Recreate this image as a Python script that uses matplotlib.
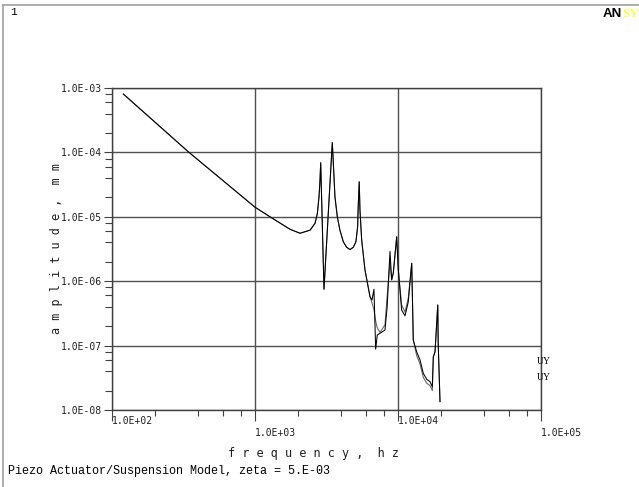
import matplotlib
matplotlib.use("Agg")
import matplotlib.pyplot as plt
from matplotlib.ticker import LogLocator, NullFormatter, FixedLocator, FixedFormatter
from matplotlib.lines import Line2D

# ---- data ----
freq = [120, 342, 1000, 1273, 1758, 2065, 2427, 2628, 2730, 2803,
        2848, 2880, 3037, 3254, 3472, 3530, 3623, 3763, 3926, 4145,
        4375, 4613, 4866, 5080, 5220, 5273, 5357, 5420, 5570, 5874,
        6370, 6580, 6790, 6980, 7160, 7480, 8110, 8400, 8790, 9030,
        9270, 9790, 10050, 10600, 11200, 11800, 12470, 12790, 13510, 14250,
        15030, 15880, 16750, 17380, 17660, 18150, 18970, 19100, 19670]
uy1 = [8.07e-4, 1.02e-4, 1.41e-5, 1.0e-5, 6.4e-6, 5.55e-6, 6.2e-6, 7.9e-6, 1.13e-5, 2.05e-5,
       3.7e-5, 6.9e-5, 7.5e-7, 1.13e-5, 1.42e-4, 6.8e-5, 2.05e-5, 1.0e-5, 6.2e-6, 4.1e-6,
       3.36e-6, 3.1e-6, 3.36e-6, 4.1e-6, 7.0e-6, 1.5e-5, 3.5e-5, 1.28e-5, 4.4e-6, 1.5e-6,
       5.75e-7, 5.1e-7, 7.5e-7, 8.8e-8, 1.46e-7, 1.55e-7, 1.75e-7, 4.0e-7, 2.9e-6, 1.05e-6,
       1.34e-6, 4.9e-6, 1.5e-6, 3.57e-7, 2.9e-7, 4.8e-7, 1.9e-6, 1.22e-7, 8.0e-8, 6.0e-8,
       3.7e-8, 3.0e-8, 2.75e-8, 2.3e-8, 6.7e-8, 8.0e-8, 4.27e-7, 1.09e-7, 1.35e-8]
uy2 = [8.07e-4, 1.02e-4, 1.41e-5, 1.0e-5, 6.4e-6, 5.55e-6, 6.2e-6, 7.9e-6, 1.13e-5, 2.05e-5,
       3.7e-5, 6.9e-5, 7.5e-7, 1.13e-5, 1.42e-4, 6.8e-5, 2.05e-5, 1.0e-5, 6.2e-6, 4.1e-6,
       3.36e-6, 3.1e-6, 3.36e-6, 4.1e-6, 7.0e-6, 1.5e-5, 3.5e-5, 1.28e-5, 4.4e-6, 1.5e-6,
       5.75e-7, 4.6e-7, 3.6e-7, 2.4e-7, 1.9e-7, 1.6e-7, 2.1e-7, 6.0e-7, 2.0e-6, 1.05e-6,
       1.34e-6, 4.9e-6, 1.5e-6, 4.3e-7, 3.3e-7, 5.5e-7, 1.9e-6, 1.22e-7, 7.0e-8, 5.2e-8,
       3.2e-8, 2.6e-8, 2.4e-8, 2.0e-8, 6.7e-8, 8.0e-8, 4.27e-7, 1.09e-7, 1.35e-8]
series_labels = ["UY", "UY"]
xtick_values = [1e2, 1e3, 1e4, 1e5]
xtick_labels = ["1.0E+02", "1.0E+03", "1.0E+04", "1.0E+05"]
ytick_values = [1e-8, 1e-7, 1e-6, 1e-5, 1e-4, 1e-3]
ytick_labels = ["1.0E-08", "1.0E-07", "1.0E-06", "1.0E-05", "1.0E-04", "1.0E-03"]
xlabel = "f r e q u e n c y ,  h z"
ylabel = "a m p l i t u d e ,  m m"
title = "Piezo Actuator/Suspension Model, zeta = 5.E-03"

W, H = 639, 487
fig = plt.figure(figsize=(W / 100, H / 100), dpi=100)
fig.patch.set_facecolor("white")

ax = fig.add_axes([112 / W, 1 - 410 / H, 429 / W, 322 / H])
ax.set_xscale("log")
ax.set_yscale("log")
ax.set_xlim(1e2, 1e5)
ax.set_ylim(1e-8, 1e-3)

ax.plot(freq, uy2, color="#606060", lw=0.75)
ax.plot(freq, uy1, color="black", lw=0.75)

ax.xaxis.set_major_locator(FixedLocator(xtick_values))
ax.yaxis.set_major_locator(FixedLocator(ytick_values))
ax.xaxis.set_minor_locator(LogLocator(base=10, subs=[2, 4, 6, 8]))
ax.yaxis.set_minor_locator(LogLocator(base=10, subs=[2, 4, 6, 8]))
ax.xaxis.set_minor_formatter(NullFormatter())
ax.yaxis.set_minor_formatter(NullFormatter())
ax.set_xticklabels([])
ax.yaxis.set_major_formatter(FixedFormatter(ytick_labels))

ax.grid(True, which="major", color="#505050", lw=1.0)
for s in ax.spines.values():
    s.set_color("#404040")
    s.set_linewidth(1.0)

ax.tick_params(axis="y", which="major", direction="out", length=5.5, width=0.8,
               color="#404040", pad=1.5, labelsize=7, labelcolor="#202020")
ax.tick_params(axis="y", which="minor", direction="out", length=5, width=0.8, color="#404040")
ax.tick_params(axis="x", which="major", direction="out", length=8, width=0.8, color="#404040")
ax.tick_params(axis="x", which="minor", direction="out", length=4, width=0.8, color="#404040")
for lab in ax.get_yticklabels():
    lab.set_family("DejaVu Sans Mono")

# staggered x tick labels
for i, (v, t) in enumerate(zip(xtick_values, xtick_labels)):
    off = -8 if i % 2 == 0 else -16.5
    ax.annotate(t, xy=(v, 0), xycoords=("data", "axes fraction"),
                xytext=(0, off), textcoords="offset points",
                ha="left", va="center", fontsize=7, family="DejaVu Sans Mono",
                color="#202020")

fig.text(314 / W, 1 - 453 / H, xlabel, ha="center", va="center",
         fontsize=8.5, family="DejaVu Sans Mono", color="#202020")
fig.text(57 / W, 1 - 249 / H, ylabel, ha="center", va="center", rotation=90,
         fontsize=8.5, family="DejaVu Sans Mono", color="#202020")
fig.text(8 / W, 1 - 471 / H, title, ha="left", va="center",
         fontsize=8.5, family="Liberation Mono", color="black")

# legend labels
fig.text(537 / W, 1 - 362 / H, series_labels[0], ha="left", va="center",
         fontsize=7, family="Liberation Serif", color="black")
fig.text(537 / W, 1 - 378 / H, series_labels[1], ha="left", va="center",
         fontsize=7, family="Liberation Serif", color="black")

# window number and logo
fig.text(10 / W, 1 - 12 / H, "1", ha="left", va="center", fontsize=8,
         family="Liberation Mono", color="black")
fig.text(603 / W, 1 - 14 / H, "AN", ha="left", va="center", fontsize=9.5,
         family="Liberation Sans", weight="bold", color="black")
fig.text(622 / W, 1 - 14 / H, "SYS", ha="left", va="center", fontsize=9.5,
         family="Liberation Serif", color="#ffff00")

# window border
fig.add_artist(Line2D([3 / W, 3 / W], [0, 1 - 5 / H], color="#a0a0a0", lw=1.2))
fig.add_artist(Line2D([3 / W, 1], [1 - 5 / H, 1 - 5 / H], color="#a0a0a0", lw=1.2))

fig.savefig("out.png", dpi=100)
